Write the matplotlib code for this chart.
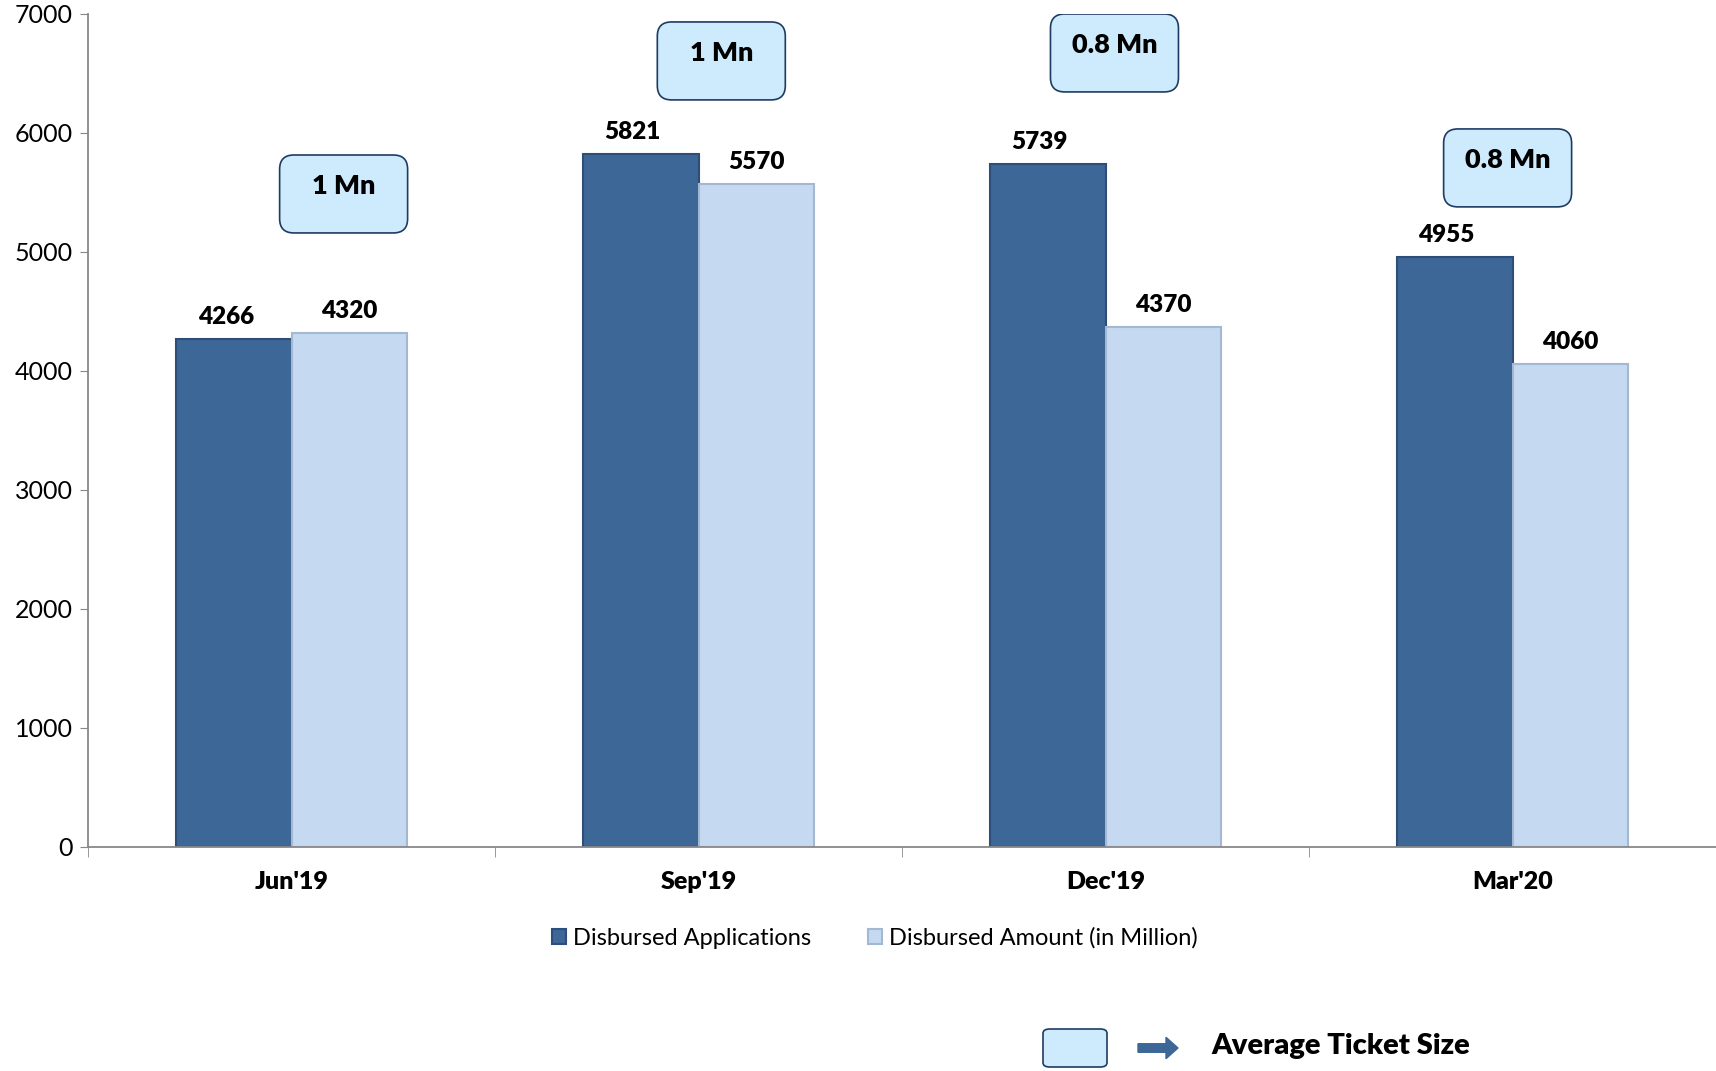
import matplotlib.pyplot as plt
import numpy as np
from matplotlib.patches import FancyBboxPatch, FancyArrow

#---data-------------------------------------
quarters = ["Jun'19", "Sep'19", "Dec'19", "Mar'20"]
applications = [4266, 5821, 5739, 4955]
amount = [4320, 5570, 4370, 4060]
ticket_size = ['1 Mn', '1 Mn', '0.8 Mn', '0.8 Mn']

# where the ticket size boxes sit (x in category units, y in data units)
box_x = [0.628, 1.556, 2.522, 3.488]
box_y = [5487, 6605, 6672, 5706]

dark = '#3D6797'
light = '#C5D9F0'

plt.rcParams['font.family'] = ['Lato', 'DejaVu Sans']

fig = plt.figure(figsize=(17.16, 10.71), dpi=100)
ax = fig.add_axes([0.0513, 0.2092, 0.9487, 0.7778])

centers = np.arange(len(quarters)) + 0.5
w = 0.283

b1 = ax.bar(centers - w / 2, applications, w, color=dark, edgecolor='#2C4E78',
            linewidth=1.5, label='Disbursed Applications')
b2 = ax.bar(centers + w / 2, amount, w, color=light, edgecolor='#A3B8D2',
            linewidth=1.5, label='Disbursed Amount (in Million)')

# value labels: the dark ones sit a little left of the bar centre
for bars, vals, dx in ((b1, applications, -6), (b2, amount, 0)):
    for r, v in zip(bars, vals):
        ax.annotate(str(v), (r.get_x() + r.get_width() / 2, v), xytext=(dx, 8),
                    textcoords='offset points', ha='center', va='bottom',
                    fontsize=17.5, fontweight='heavy')

# ticket size boxes
bw = 0.3145
bh = 655
asp = (1000 / 119) / (1 / 407)
for x, y, t in zip(box_x, box_y, ticket_size):
    p = FancyBboxPatch((x - bw / 2, y - bh / 2), bw, bh,
                       boxstyle='round,pad=0,rounding_size=0.035',
                       mutation_aspect=asp, facecolor='#CDEBFC',
                       edgecolor='#1F3B63', linewidth=1.2, zorder=3)
    ax.add_patch(p)
    ax.text(x, y + 70, t, ha='center', va='center', fontsize=19.5,
            fontweight='heavy', zorder=4)

ax.set_xlim(0, 4)
ax.set_ylim(0, 7000)
ax.set_yticks(range(0, 7001, 1000))
ax.tick_params(axis='y', labelsize=18, length=6, color='#888888', pad=5)
ax.set_xticks(centers)
ax.set_xticklabels(quarters, fontsize=18, fontweight='heavy')
ax.tick_params(axis='x', length=0, pad=17)
ax.set_xticks(np.arange(0, 5), minor=True)
ax.tick_params(axis='x', which='minor', length=7, color='#888888')

for s in ('top', 'right'):
    ax.spines[s].set_visible(False)
for s in ('left', 'bottom'):
    ax.spines[s].set_color('#888888')
    ax.spines[s].set_linewidth(1.3)

fig.legend(handles=[b1, b2], loc='center', bbox_to_anchor=(0.51, 0.124),
           ncol=2, frameon=False, fontsize=17, handlelength=0.6,
           handleheight=0.6, handletextpad=0.3, columnspacing=2.4)

# bottom key: box -> Average Ticket Size
fig.patches.append(FancyBboxPatch((1043 / 1716, 1 - 1067 / 1071), 64 / 1716, 38 / 1071,
                                  boxstyle='round,pad=0,rounding_size=0.004',
                                  transform=fig.transFigure, facecolor='#CDEBFC',
                                  edgecolor='#1F3B63', linewidth=1.2))
fig.patches.append(FancyArrow(1138 / 1716, 1 - 1048 / 1071, 28 / 1716, 0,
                              width=0.008, head_width=0.02, head_length=0.007,
                              transform=fig.transFigure, color='#3D6797'))
fig.text(1211 / 1716, 1 - 1046 / 1071, 'Average Ticket Size', fontsize=21,
         fontweight='heavy', va='center', ha='left')

fig.savefig('out.png', dpi=100)
